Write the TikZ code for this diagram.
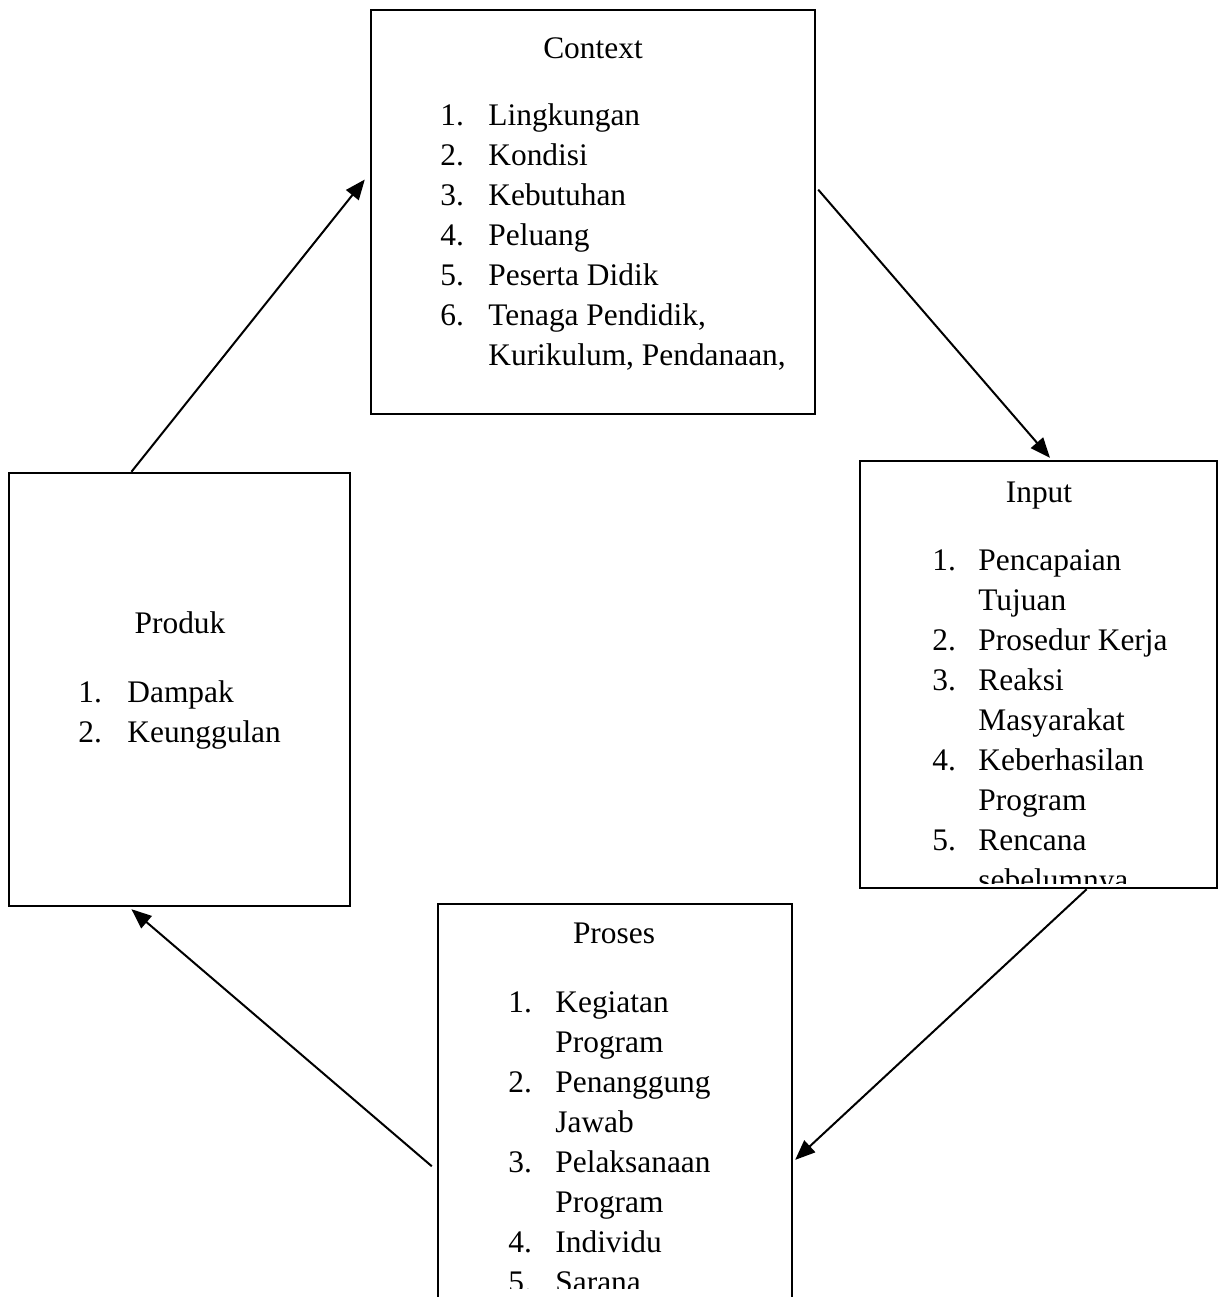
\documentclass[tikz,border=0pt]{standalone}
\usepackage{fontspec}
\setmainfont{Liberation Serif}
\usetikzlibrary{arrows.meta,calc}
\begin{document}
\begin{tikzpicture}[x=0.5pt,y=-0.5pt,
  box/.style={draw=black,line width=1.2pt,rectangle,inner sep=0pt},
  txt/.style={anchor=base west,inner sep=0pt,font=\fontsize{15.7pt}{20pt}\selectfont},
  ttl/.style={anchor=base,inner sep=0pt,font=\fontsize{15.7pt}{20pt}\selectfont},
  arr/.style={line width=1pt,-{Triangle[length=10pt,width=8pt]}}]
\clip (0,0) rectangle (1223,1297);
\fill[white] (0,0) rectangle (1223,1297);
% boxes
\node[box,minimum width=222pt,minimum height=202pt] (ctx) at (593,212) {};
\node[box,minimum width=178.5pt,minimum height=213.5pt] (inp) at (1038.5,674.5) {};
\node[box,minimum width=170.5pt,minimum height=216.5pt] (prod) at (179.5,689.5) {};
\node[box,minimum width=177pt,minimum height=213pt] (pros) at (615,1117) {};
% Context text
\node[ttl] (ctxT) at (593,58) {Context};
\node[txt] (c1n) at (440,125) {1.};
\node[txt] (c1) at (488,125) {Lingkungan};
\node[txt] (c2n) at (440,165) {2.};
\node[txt] (c2) at (488,165) {Kondisi};
\node[txt] (c3n) at (440,205) {3.};
\node[txt] (c3) at (488,205) {Kebutuhan};
\node[txt] (c4n) at (440,245) {4.};
\node[txt] (c4) at (488,245) {Peluang};
\node[txt] (c5n) at (440,285) {5.};
\node[txt] (c5) at (488,285) {Peserta Didik};
\node[txt] (c6n) at (440,325) {6.};
\node[txt] (c6) at (488,325) {Tenaga Pendidik,};
\node[txt] (c7) at (488,365) {Kurikulum, Pendanaan,};
% Input text
\node[ttl] (inpT) at (1039,502) {Input};
\begin{scope}
\clip (860,461) rectangle (1217,883);
\node[txt] (i1n) at (932,570) {1.};
\node[txt] (i1) at (978,570) {Pencapaian};
\node[txt] (i1b) at (978,610) {Tujuan};
\node[txt] (i2n) at (932,650) {2.};
\node[txt] (i2) at (978,650) {Prosedur Kerja};
\node[txt] (i3n) at (932,690) {3.};
\node[txt] (i3) at (978,690) {Reaksi};
\node[txt] (i3b) at (978,730) {Masyarakat};
\node[txt] (i4n) at (932,770) {4.};
\node[txt] (i4) at (978,770) {Keberhasilan};
\node[txt] (i4b) at (978,810) {Program};
\node[txt] (i5n) at (932,850) {5.};
\node[txt] (i5) at (978,850) {Rencana};
\node[txt] (i5b) at (978,890) {sebelumnya};
\end{scope}
% Produk text
\node[ttl] (prodT) at (180,633) {Produk};
\node[txt] (p1n) at (78,702) {1.};
\node[txt] (p1) at (127,702) {Dampak};
\node[txt] (p2n) at (78,742) {2.};
\node[txt] (p2) at (127,742) {Keunggulan};
% Proses text
\node[ttl] (prosT) at (614,943) {Proses};
\begin{scope}
\clip (438,904) rectangle (792,1288);
\node[txt] (r1n) at (508,1012) {1.};
\node[txt] (r1) at (555,1012) {Kegiatan};
\node[txt] (r1b) at (555,1052) {Program};
\node[txt] (r2n) at (508,1092) {2.};
\node[txt] (r2) at (555,1092) {Penanggung};
\node[txt] (r2b) at (555,1132) {Jawab};
\node[txt] (r3n) at (508,1172) {3.};
\node[txt] (r3) at (555,1172) {Pelaksanaan};
\node[txt] (r3b) at (555,1212) {Program};
\node[txt] (r4n) at (508,1252) {4.};
\node[txt] (r4) at (555,1252) {Individu};
\node[txt] (r5n) at (508,1292) {5.};
\node[txt] (r5) at (555,1292) {Sarana};
\end{scope}
% arrows
\draw[arr] ($(prod.north west)!0.36!(prod.north east)$) -- ($(ctx.north west)!0.42!(ctx.south west)+(-5,0)$);
\draw[arr] ($(ctx.north east)!0.445!(ctx.south east)+(2,0)$) -- ($(inp.north west)!0.532!(inp.north east)+(0,-2)$);
\draw[arr] ($(inp.south west)!0.634!(inp.south east)$) -- ($(pros.north east)!0.60!(pros.south east)+(2,0)$);
\draw[arr] ($(pros.north west)!0.615!(pros.south west)+(-5,0)$) -- ($(prod.south west)!0.36!(prod.south east)+(0,2)$);
\end{tikzpicture}
\end{document}
